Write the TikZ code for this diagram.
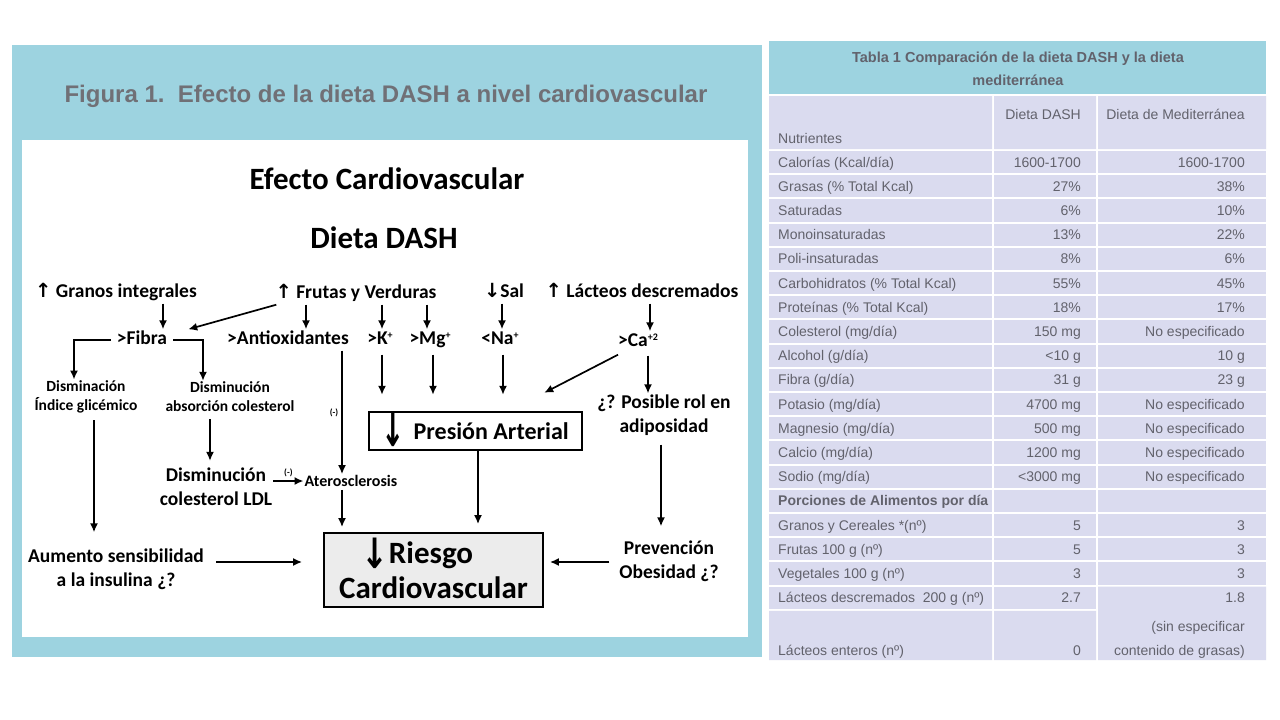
\documentclass[tikz,border=0pt]{standalone}
\usepackage{fontspec}
\usepackage{graphicx}
\setmainfont{Carlito}
\newfontfamily\tabfont{Liberation Sans}
\newfontfamily\arrowfont{DejaVu Sans}
\usetikzlibrary{arrows.meta}

\definecolor{panelblue}{RGB}{157,211,224}
\definecolor{rowlilac}{RGB}{218,219,239}
\definecolor{textgray}{RGB}{98,98,108}
\definecolor{titlegray}{RGB}{112,112,118}
\definecolor{riskfill}{RGB}{236,236,236}

\newcommand{\uparr}{{\arrowfont ↑}}
\newcommand{\downarr}{{\arrowfont ↓}}
\newcommand{\ionsup}[1]{\raisebox{6pt}{\fontsize{10}{10}\selectfont #1}}

\tikzset{
  lab/.style={font=\bfseries\fontsize{19.5}{24}\selectfont, inner sep=1pt, align=center},
  onelab/.style={lab, text height=14pt, text depth=5pt},
  smalllab/.style={font=\bfseries\fontsize{15.5}{19}\selectfont, inner sep=1pt, align=center},
  minus/.style={font=\bfseries\fontsize{9}{10}\selectfont, inner sep=1pt},
  flow/.style={-{Latex[length=9pt,width=8pt]}, line width=1.7pt},
  celltext/.style={font=\tabfont\fontsize{14}{17}\selectfont, text=textgray, inner sep=0pt},
}

\begin{document}
\begin{tikzpicture}[x=1pt,y=-1pt]
\useasboundingbox (0,0) rectangle (1280,720);
\fill[white] (0,0) rectangle (1280,720);

% figure frame
\fill[panelblue] (12,45) rectangle (762,657);
\fill[white] (22,140) rectangle (748,637);
\node (figtitle) [font=\tabfont\bfseries\fontsize{24}{28}\selectfont, text=titlegray] at (386,96) {Figura 1.\ \ Efecto de la dieta DASH a nivel cardiovascular};

\node (efecto) [font=\bfseries\fontsize{31}{36}\selectfont] at (387,179) {Efecto Cardiovascular};
\node (dieta) [font=\bfseries\fontsize{31}{36}\selectfont] at (384,238) {Dieta DASH};

% sources
\node (granos) [onelab] at (116,293) {\uparr\ Granos integrales};
\node (frutas) [onelab] at (356,294) {\uparr\ Frutas y Verduras};
\node (sal) [onelab] at (504,293) {\downarr Sal};
\node (lacteos) [onelab] at (642,293) {\uparr\ Lácteos descremados};

% nutrients
\node (fibra) [onelab] at (142,340) {>Fibra};
\node (antiox) [onelab] at (288,340) {>Antioxidantes};
\node (potasio) [onelab] at (380,340) {>K\ionsup{+}};
\node (magnesio) [onelab] at (430,340) {>Mg\ionsup{+}};
\node (sodio) [onelab] at (500,340) {<Na\ionsup{+}};
\node (calcio) [onelab] at (638,342) {>Ca\ionsup{+2}};

% effects
\node (glicemico) [smalllab] at (86,397) {Disminación\\Índice glicémico};
\node (absorcion) [smalllab] at (230,397) {Disminución\\absorción colesterol};
\node (rol) [lab] at (664,415) {¿? Posible rol en\\adiposidad};
\node (presion) [draw, line width=2.4pt, minimum width=213pt, minimum height=38pt, inner sep=0pt,
  font=\bfseries\fontsize{24}{28}\selectfont] at (475.5,431)
  {\hspace*{5pt}\smash{\raisebox{-7pt}{\scalebox{0.7}[1.2]{\arrowfont\fontsize{40}{40}\selectfont ↓}}}\hspace{9pt}Presión Arterial\hspace*{6pt}};
\node (ldl) [lab] at (216,487) {Disminución\\colesterol LDL};
\node (ateros) [smalllab, font=\bfseries\fontsize{16}{19}\selectfont] at (351,481) {Aterosclerosis};
\node (aumento) [lab] at (116,569) {Aumento sensibilidad\\a la insulina ¿?};
\node (obesidad) [lab] at (669,561) {Prevención\\Obesidad ¿?};
\node (riesgo) [draw, line width=1.8pt, fill=riskfill, minimum width=219pt, minimum height=74pt,
  inner sep=2pt, align=center, font=\bfseries\fontsize{31}{35}\selectfont] at (433.5,570)
  {\smash{\raisebox{-5pt}{\scalebox{0.85}[1.1]{\arrowfont\fontsize{38}{38}\selectfont ↓}}}Riesgo\hspace*{32pt}\\Cardiovascular};

% arrows
\draw[flow] (163,0 |- granos.south) -- (163,0 |- fibra.north);
\draw[flow] ([xshift=2pt]frutas.south west) -- ([xshift=20pt]fibra.north east);
\draw[flow] (306,0 |- frutas.south) -- (306,0 |- antiox.north);
\draw[flow] (382,0 |- frutas.south) -- (382,0 |- potasio.north);
\draw[flow] (427,0 |- frutas.south) -- (427,0 |- magnesio.north);
\draw[flow] (502,0 |- sal.south) -- (502,0 |- sodio.north);
\draw[flow] (650,0 |- lacteos.south) -- (650,0 |- calcio.north);

\draw[flow] ([xshift=-5pt]fibra.west) -| (74,0 |- glicemico.north);
\draw[flow] ([xshift=5pt]fibra.east) -| (203,0 |- absorcion.north);

\draw[flow, shorten <=4pt, shorten >=16pt] (382,0 |- potasio.south) -- (382,0 |- presion.north);
\draw[flow, shorten <=4pt, shorten >=16pt] (433,0 |- magnesio.south) -- (433,0 |- presion.north);
\draw[flow, shorten <=4pt, shorten >=16pt] (503,0 |- sodio.south) -- (503,0 |- presion.north);
\draw[flow] ([xshift=-20pt,yshift=-2pt]calcio.south) -- ([xshift=-39pt,yshift=18pt]presion.north east);
\draw[flow, shorten <=3pt] (648,0 |- calcio.south) -- (648,0 |- rol.north);

\draw[flow] (342,0 |- antiox.south) -- node (menosantiox) [minus, left=2pt] {(-)} (342,0 |- ateros.north);
\draw[flow, shorten <=6pt, shorten >=15pt] (94,0 |- glicemico.south) -- (94,0 |- aumento.north);
\draw[flow, shorten <=6pt, shorten >=6pt] (210,0 |- absorcion.south) -- (210,0 |- ldl.north);
\draw[flow] (ldl.east |- ateros.west) -- node (menosldl) [minus, above=2pt] {(-)} (ateros.west);
\draw[flow, shorten <=8pt, shorten >=13pt] (661,0 |- rol.south) -- (661,0 |- obesidad.north);

\draw[flow, shorten <=2pt, shorten >=5pt] (342,0 |- ateros.south) -- (342,0 |- riesgo.north);
\draw[flow, shorten >=8pt] (478,0 |- presion.south) -- (478,0 |- riesgo.north);
\draw[flow, shorten <=11pt, shorten >=21pt] ([yshift=7pt]aumento.east) -- ([yshift=7pt]aumento.east -| riesgo.west);
\draw[flow, shorten >=6pt] ([xshift=-9pt,yshift=8pt]obesidad.west |- riesgo.east) -- ([yshift=8pt]riesgo.east);

% table
\fill[panelblue] (769,41) rectangle (1266,94);
\node (tabtitle) [align=center, font=\tabfont\bfseries\fontsize{14.5}{23}\selectfont, text=textgray] at (1018,69)
  {Tabla 1 Comparación de la dieta DASH y la dieta\\mediterránea};
\fill[rowlilac] (769,96) rectangle (992,149) (994,96) rectangle (1096,149) (1098,96) rectangle (1266,149);
\foreach \k in {0,...,18} {
  \fill[rowlilac] (769,{151+24.2*\k}) rectangle (992,{149+24.2*(\k+1)});
  \fill[rowlilac] (994,{151+24.2*\k}) rectangle (1096,{149+24.2*(\k+1)});
}
\foreach \k in {0,...,17}
  \fill[rowlilac] (1098,{151+24.2*\k}) rectangle (1266,{149+24.2*(\k+1)});
\fill[rowlilac] (769,{151+24.2*19}) rectangle (992,660) (994,{151+24.2*19}) rectangle (1096,660)
  (1098,{151+24.2*18}) rectangle (1266,660);

\node (nutrientes) [celltext, anchor=base west] at (778,143) {Nutrientes};
\node (hdash) [celltext, anchor=base east] at (1081,119) {Dieta DASH};
\node (hmed) [celltext, anchor=base east] at (1245,119) {Dieta de Mediterránea};

\foreach \k/\nutr/\valdash/\valmed in {
  0/{Calorías (Kcal/día)}/1600-1700/1600-1700,
  1/{Grasas (\% Total Kcal)}/27\%/38\%,
  2/Saturadas/6\%/10\%,
  3/Monoinsaturadas/13\%/22\%,
  4/Poli-insaturadas/8\%/6\%,
  5/{Carbohidratos (\% Total Kcal)}/55\%/45\%,
  6/{Proteínas (\% Total Kcal)}/18\%/17\%,
  7/{Colesterol (mg/día)}/150 mg/No especificado,
  8/{Alcohol (g/día)}/<10 g/10 g,
  9/{Fibra (g/día)}/31 g/23 g,
  10/{Potasio (mg/día)}/4700 mg/No especificado,
  11/{Magnesio (mg/día)}/500 mg/No especificado,
  12/{Calcio (mg/día)}/1200 mg/No especificado,
  13/{Sodio (mg/día)}/<3000 mg/No especificado,
  15/Granos y Cereales *(nº)/5/3,
  16/Frutas 100 g (nº)/5/3,
  17/Vegetales 100 g (nº)/3/3,
  18/Lácteos descremados\ \ 200 g (nº)/2.7/1.8} {
  \node (nutr-\k) [celltext, anchor=base west] at (778,{167+24.2*\k}) {\nutr};
  \node (dash-\k) [celltext, anchor=base east] at (1081,{167+24.2*\k}) {\valdash};
  \node (med-\k) [celltext, anchor=base east] at (1245,{167+24.2*\k}) {\valmed};
}
\node (porciones) [celltext, font=\tabfont\bfseries\fontsize{14}{17}\selectfont, anchor=base west] at (778,{167+24.2*14}) {Porciones de Alimentos por día};
\node (nutr-19) [celltext, anchor=base west] at (778,655) {Lácteos enteros (nº)};
\node (dash-19) [celltext, anchor=base east] at (1081,655) {0};
\node (med-19a) [celltext, anchor=base east] at (1245,631) {(sin especificar};
\node (med-19b) [celltext, anchor=base east] at (1245,655) {contenido de grasas)};
\end{tikzpicture}
\end{document}
